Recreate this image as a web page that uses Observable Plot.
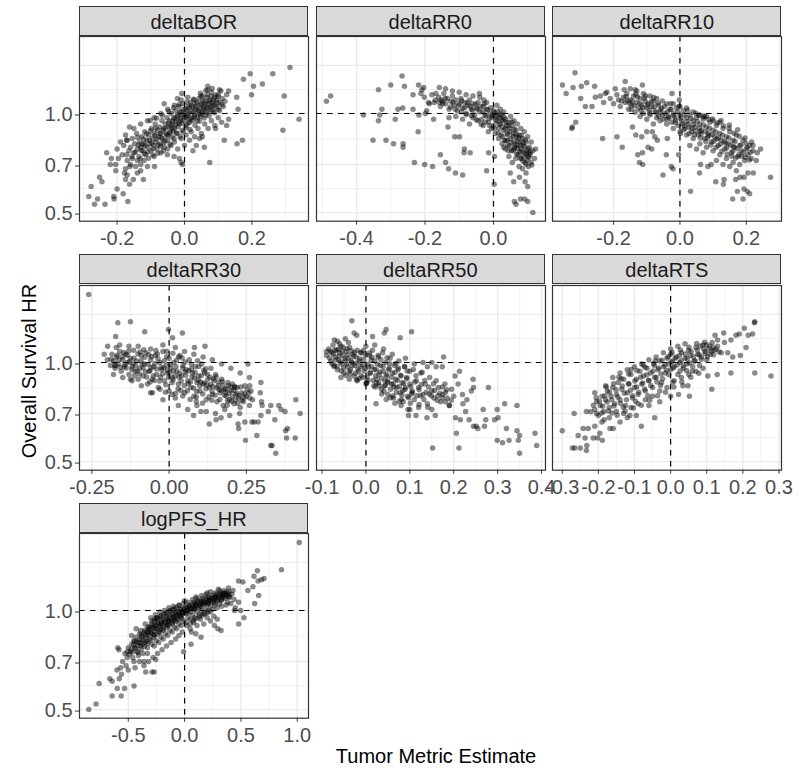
<!DOCTYPE html>
<html><head><meta charset="utf-8">
<script src="https://cdn.jsdelivr.net/npm/d3@7"></script>
<script src="https://cdn.jsdelivr.net/npm/@observablehq/plot@0.6"></script>
<style>
body{margin:0;background:#fff;}
#chart{position:relative;width:807px;height:771px;font-family:"Liberation Sans",Arial,sans-serif;overflow:hidden;}
.strip{position:absolute;box-sizing:border-box;background:#D9D9D9;border:1px solid #333;color:#1A1A1A;font-size:20px;text-align:center;line-height:28.3px;padding-top:1px;}
.title{position:absolute;font-size:20px;color:#000;white-space:nowrap;line-height:1;}
#chart svg{position:absolute;}
</style></head><body><div id="chart"></div><script>
// ---------- DATA: [metric estimate, overall survival HR] ----------
const facetNames = ["deltaBOR","deltaRR0","deltaRR10","deltaRR30","deltaRR50","deltaRTS","logPFS_HR"];

const deltaBOR = [
[0.313,1.38],[0.262,1.32],[0.195,1.32],[0.175,1.27],[0.205,1.21],[0.231,1.23],[0.199,1.14],[0.296,1.13],[0.155,1.12],[0.131,1.17],[0.159,1.03],[0.34,0.96],[0.292,0.89],[0.118,0.83],[0.156,0.81],[0.172,0.83],[0.075,0.71],[0.059,0.79],[0.131,0.96],[0.125,0.92],[0.092,0.9],[0.053,0.85],[0.104,1.18],[0.069,1.18],[0.069,1.21],[0.049,1.13],[-0.008,1.15],[-0.021,1.11],
[-0.284,0.56],[-0.267,0.53],[-0.277,0.6],[-0.258,0.55],[-0.236,0.53],[-0.252,0.64],[-0.245,0.62],[-0.231,0.76],[-0.209,0.55],[-0.21,0.56],[-0.2,0.59],[-0.182,0.57],[-0.168,0.54],[-0.22,0.7],[-0.204,0.7],[-0.196,0.73],[-0.217,0.73],[-0.204,0.67],[-0.175,0.63],[-0.17,0.65],[-0.163,0.61],[-0.178,0.66],[-0.175,0.68],[-0.162,0.69],[-0.172,0.75],[-0.152,0.63],[-0.14,0.66],[-0.122,0.63],[-0.13,0.67],[-0.163,0.91],[-0.172,0.83],[-0.156,0.74],[-0.11,0.69],[-0.089,0.69],[-0.006,0.7],[-0.01,0.71],[-0.031,0.74],[-0.051,0.75],
[-0.16,0.79],[-0.155,0.84],[-0.15,0.76],[-0.148,0.81],[-0.142,0.87],[-0.14,0.78],[-0.135,0.74],[-0.133,0.82],[-0.13,0.79],[-0.127,0.85],[-0.124,0.77],[-0.12,0.81],[-0.118,0.88],[-0.115,0.75],[-0.112,0.83],[-0.11,0.79],[-0.106,0.86],[-0.103,0.81],[-0.1,0.77],[-0.098,0.9],[-0.095,0.84],[-0.092,0.8],[-0.09,0.87],[-0.087,0.93],[-0.085,0.82],[-0.082,0.78],[-0.08,0.89],[-0.077,0.85],[-0.074,0.91],[-0.072,0.81],[-0.07,0.87],[-0.067,0.95],[-0.065,0.84],[-0.062,0.9],[-0.06,0.79],[-0.057,0.93],[-0.055,0.87],[-0.052,0.97],[-0.05,0.83],[-0.047,0.91],[-0.045,0.95],[-0.042,0.88],[-0.04,1.0],[-0.037,0.85],[-0.035,0.93],[-0.032,0.97],[-0.03,0.9],[-0.027,1.02],[-0.025,0.95],[-0.022,0.87],[-0.02,0.99],[-0.017,1.05],[-0.015,0.93],[-0.012,0.97],[-0.01,1.01],[-0.007,0.89],[-0.005,1.07],[-0.002,0.95],[0,0.99],[0.003,1.03],[0.005,0.92],[0.008,0.97],[0.01,1.05],[0.013,1.0],[0.015,0.94],[0.018,1.08],[0.02,1.02],[0.023,0.97],[0.025,1.05],[0.028,1.1],[0.03,0.99],[0.033,1.03],[0.035,1.07],[0.038,0.95],[0.04,1.01],[0.043,1.11],[0.045,1.04],[0.048,0.98],[0.05,1.07],[0.053,1.13],[0.055,1.02],[0.058,1.05],[0.06,1.09],[0.063,0.99],[0.065,1.04],[0.068,1.14],[0.07,1.07],[0.073,1.01],[0.075,1.1],[0.078,1.05],[0.08,1.16],[0.083,1.08],[0.085,1.02],[0.088,1.12],[0.09,1.06],[0.095,1.1],[0.1,1.14],[0.1,1.03],[0.105,1.08],[0.108,1.17],[0.112,1.11],[0.115,1.05],[0.12,1.09],[0.125,1.14],
[-0.09,0.74],[-0.07,0.76],[-0.05,0.78],[-0.04,0.8],[-0.03,0.82],[-0.02,0.78],[-0.01,0.84],[0,0.8],[0.005,0.86],[0.015,0.83],[0.02,0.88],[0.03,0.85],[0.04,0.9],[0.05,0.87],[0.06,0.93],[0.07,0.9],[0.08,0.95],[0.09,0.92],[0.1,0.97],[0.11,0.94],[0.025,0.77],[0.035,0.8],[-0.015,0.73],[0.045,0.84],
[-0.2,0.78],[-0.19,0.82],[-0.185,0.75],[-0.18,0.8],[-0.175,0.86],[-0.17,0.72],[-0.165,0.77],[-0.16,0.7],[-0.155,0.73],[-0.145,0.69],[-0.14,0.72],[-0.13,0.7],[-0.12,0.72],[-0.17,0.83],[-0.15,0.9],[-0.13,0.93],[-0.11,0.95],[-0.09,0.97],[-0.07,1.0],[-0.05,1.03],[-0.03,1.06],[-0.01,1.1],[0.01,1.12],[-0.06,1.07],
[-0.137,0.803],[-0.128,0.772],[-0.121,0.836],[-0.117,0.798],[-0.109,0.764],[-0.104,0.829],[-0.097,0.812],[-0.093,0.781],[-0.088,0.857],[-0.083,0.836],[-0.078,0.803],[-0.073,0.868],[-0.069,0.842],[-0.064,0.889],[-0.061,0.815],[-0.056,0.902],[-0.053,0.861],[-0.048,0.934],[-0.044,0.873],[-0.041,0.918],[-0.036,0.948],[-0.033,0.887],[-0.029,0.965],[-0.026,0.923],[-0.021,0.981],[-0.018,0.942],[-0.014,1.012],[-0.011,0.958],[-0.006,0.994],[-0.003,1.028],[0.002,0.972],[0.006,1.017],[0.009,0.988],[0.014,1.041],[0.017,0.963],[0.021,1.059],[0.026,1.013],[0.029,0.978],[0.034,1.046],[0.037,1.082],[0.041,1.022],[0.046,0.993],[0.049,1.061],[0.054,1.094],[0.057,1.033],[0.062,1.071],[0.066,1.118],[0.071,1.043],[0.074,1.087],[0.079,1.126],[0.084,1.062],[0.087,1.097],[0.092,1.138],[0.097,1.076],[-0.146,0.762],[-0.139,0.846],[-0.131,0.727],[-0.126,0.805],[-0.119,0.754],[-0.113,0.868],[-0.107,0.731],[-0.101,0.886],[-0.094,0.748],[-0.086,0.902],[-0.079,0.757],[-0.071,0.796],[-0.063,0.771],[-0.058,0.825],[-0.049,0.857],[-0.043,0.806],[-0.037,0.902],[-0.031,0.839],[-0.024,0.872],[-0.019,0.912],[-0.013,0.852],[-0.008,0.934],[-0.004,0.878],[0.004,0.905],[0.011,0.936],[0.016,0.894],[0.024,0.952],[0.031,0.921],[0.038,0.975],[0.044,0.948],[0.052,1.004],[0.058,0.969],[0.066,1.011],[0.073,0.982],[0.081,1.028],[0.089,1.006],[0.096,1.047],[0.104,1.021],[0.111,1.066],[-0.102,0.952],[-0.083,0.968],[-0.066,0.988],[-0.047,1.016],[-0.032,1.042],[-0.016,1.066],[0.007,1.083],[0.027,1.104],[0.047,1.152],[0.063,1.172],[0.082,1.192],[0.1,1.124]
];

const deltaRR0 = [
[-0.488,1.09],[-0.476,1.13],[-0.336,1.18],[-0.3,1.22],[-0.267,1.3],[-0.26,1.21],[-0.326,1.03],[-0.332,0.99],[-0.336,0.95],[-0.38,0.99],[-0.352,0.83],[-0.314,0.83],[-0.292,0.81],[-0.264,0.81],[-0.264,0.79],[-0.287,0.96],[-0.279,1.03],[-0.265,1.04],[-0.235,1.03],[-0.235,1.14],[-0.22,0.88],[-0.231,0.71],[-0.201,0.7],[-0.178,0.69],[-0.155,0.75],[-0.14,0.71],[-0.131,0.68],[-0.111,0.66],[-0.09,0.65],[-0.133,0.91],[-0.099,0.85],[-0.113,0.85],[-0.085,0.78],[-0.068,0.76],[-0.086,0.76],[-0.175,0.96],[-0.218,0.99],[-0.199,1.0],[-0.219,1.22],[-0.204,1.2],[-0.202,1.12],[-0.187,1.07],[-0.168,1.15],[-0.158,1.2],[-0.153,1.1],[-0.041,1.15],[-0.028,1.1],[-0.02,0.67],[0.002,0.61],[-0.014,0.76],[0.003,0.74],[0.049,0.66],[0.059,0.62],[0.076,0.64],[0.092,0.62],[0.1,0.6],[0.061,0.54],[0.066,0.53],[0.079,0.55],[0.091,0.55],[0.1,0.54],[0.115,0.5],[0.123,0.78],[0.103,0.76],[-0.195,1.02],[-0.173,1.08],[-0.158,1.08],[-0.212,1.15],[-0.209,1.18],
[-0.16,1.12],[-0.155,1.05],[-0.15,1.09],[-0.145,1.15],[-0.14,1.07],[-0.135,1.11],[-0.13,1.03],[-0.125,1.09],[-0.12,1.13],[-0.115,1.06],[-0.11,1.1],[-0.105,1.02],[-0.1,1.07],[-0.095,1.11],[-0.09,1.04],[-0.085,1.08],[-0.08,1.0],[-0.075,1.06],[-0.07,1.1],[-0.065,1.03],[-0.06,1.07],[-0.055,0.99],[-0.05,1.04],[-0.045,1.08],[-0.04,1.01],[-0.035,0.96],[-0.03,1.05],[-0.025,0.99],[-0.02,1.03],[-0.015,0.94],[-0.01,1.0],[-0.005,0.97],[0,1.02],[0,0.92],[0.005,0.98],[0.01,0.95],[0.012,1.01],[0.015,0.9],[0.018,0.97],[0.02,0.93],[0.022,0.86],[0.025,0.99],[0.028,0.95],[0.03,0.89],[0.032,0.83],[0.035,0.96],[0.038,0.92],[0.04,0.87],[0.042,0.8],[0.045,0.94],[0.047,0.9],[0.05,0.84],[0.052,0.77],[0.055,0.92],[0.057,0.87],[0.06,0.82],[0.062,0.79],[0.065,0.89],[0.067,0.85],[0.07,0.8],[0.072,0.75],[0.075,0.86],[0.077,0.82],[0.08,0.78],[0.082,0.73],[0.085,0.84],[0.087,0.8],[0.09,0.76],[0.092,0.71],[0.095,0.82],[0.097,0.77],[0.1,0.74],[0.102,0.69],[0.105,0.79],[0.107,0.75],[0.11,0.71],[0.115,0.77],[0.12,0.73],[0.045,0.74],[0.055,0.71],[0.065,0.73],[0.075,0.69],[0.085,0.68],[0.095,0.66],[0.035,0.78],[0.025,0.81],[0.015,0.84],[0.005,0.87],[-0.005,0.9],[-0.015,0.88],[-0.03,0.92],[-0.045,0.95],[-0.06,0.97],[-0.07,0.93],[-0.09,0.96],[-0.11,0.98],[-0.13,0.97],[-0.02,1.08],[-0.04,1.12],[-0.06,1.13],[-0.08,1.14],[-0.1,1.16],[-0.12,1.17],[-0.14,1.19],[0.01,1.06],[0.02,1.03],[0.03,1.01],[0.05,0.98],[0.06,0.95],[0.07,0.93],[0.08,0.9],[0.09,0.88],[0.1,0.85],[0.11,0.82],[0.06,0.78],[0.04,0.83],[-0.17,1.1],[-0.18,1.14],[-0.19,1.08],
[-0.118,1.082],[-0.102,1.058],[-0.093,1.093],[-0.084,1.041],[-0.076,1.078],[-0.067,1.052],[-0.061,1.024],[-0.052,1.067],[-0.046,1.031],[-0.038,1.048],[-0.031,1.012],[-0.027,1.071],[-0.022,0.983],[-0.017,1.026],[-0.012,0.968],[-0.008,1.041],[-0.003,0.986],[0.003,1.008],[0.007,0.951],[0.011,0.982],[0.016,0.926],[0.019,0.995],[0.023,0.958],[0.027,0.911],[0.031,0.974],[0.034,0.897],[0.037,0.942],[0.041,0.862],[0.044,0.918],[0.048,0.882],[0.051,0.816],[0.054,0.943],[0.057,0.851],[0.061,0.898],[0.063,0.804],[0.066,0.867],[0.069,0.826],[0.071,0.783],[0.074,0.842],[0.076,0.762],[0.079,0.803],[0.081,0.857],[0.083,0.768],[0.086,0.815],[0.088,0.742],[0.091,0.792],[0.093,0.831],[0.096,0.752],[0.098,0.721],[0.101,0.781],[0.104,0.735],[0.108,0.764],[0.112,0.697],[0.068,0.752],[0.058,0.771],[0.047,0.798],[0.036,0.826],[0.026,0.852],[0.014,0.872],[0.002,0.902],[-0.011,0.918],[-0.024,0.943],[-0.036,0.928],[-0.05,0.958],[-0.064,0.985],[-0.079,0.993],[-0.094,1.012],[-0.112,1.031],[-0.126,1.046],[-0.141,1.111],[-0.148,1.072],[0.086,0.717],[0.078,0.731],[0.095,0.701],[0.044,0.77],[0.03,0.79]
];

const deltaRR10 = [
[-0.316,1.33],[-0.354,1.22],[-0.343,1.15],[-0.322,1.2],[-0.297,1.21],[-0.281,1.24],[-0.299,1.11],[-0.285,1.05],[-0.265,1.05],[-0.257,1.21],[-0.255,1.12],[-0.324,0.91],[-0.326,0.9],[-0.314,0.94],[-0.233,0.84],[-0.19,0.85],[-0.174,0.79],[-0.165,1.25],[-0.168,1.18],[-0.195,1.19],[-0.225,1.15],[-0.113,1.22],[-0.135,1.18],[-0.143,0.91],[-0.133,0.86],[-0.115,0.85],[-0.127,0.75],[-0.113,0.76],[-0.122,0.71],[-0.112,0.7],[-0.096,0.79],[-0.085,0.78],[-0.1,0.88],[-0.083,0.88],[-0.076,0.85],[-0.068,0.83],[-0.051,0.65],[-0.024,1.15],[-0.002,1.1],[-0.038,0.84],[-0.041,0.75],[-0.026,0.69],[-0.021,0.68],[-0.004,0.75],[0.002,0.87],[0.032,0.58],[0.059,0.66],[0.062,0.7],[0.084,0.69],[0.094,0.7],[0.108,0.62],[0.131,0.61],[0.133,0.63],[0.159,0.55],[0.173,0.58],[0.19,0.55],[0.193,0.59],[0.203,0.58],[0.21,0.57],[0.181,0.64],[0.193,0.64],[0.205,0.66],[0.221,0.66],[0.273,0.64],[0.23,0.72],[0.243,0.78],[0.233,0.76],[0.216,0.82],[0.22,0.8],[0.168,0.63],
[-0.24,1.13],[-0.23,1.08],[-0.22,1.16],[-0.21,1.11],[-0.2,1.07],[-0.19,1.14],[-0.185,1.1],[-0.18,1.05],[-0.17,1.12],[-0.165,1.08],[-0.16,1.15],[-0.155,1.03],[-0.15,1.1],[-0.145,1.06],[-0.14,1.13],[-0.135,1.01],[-0.13,1.08],[-0.125,1.04],[-0.12,1.11],[-0.115,1.06],[-0.11,1.0],[-0.105,1.09],[-0.1,1.04],[-0.095,1.07],[-0.09,0.99],[-0.085,1.05],[-0.08,1.09],[-0.075,1.02],[-0.07,0.97],[-0.065,1.06],[-0.06,1.01],[-0.055,1.04],[-0.05,0.96],[-0.045,1.0],[-0.04,1.07],[-0.035,0.98],[-0.03,1.03],[-0.025,0.94],[-0.02,1.0],[-0.015,0.97],[-0.01,1.04],[-0.005,0.92],[0,0.99],[0.005,0.95],[0.01,1.02],[0.015,0.9],[0.02,0.97],[0.025,0.93],[0.03,0.99],[0.035,0.88],[0.04,0.95],[0.045,0.91],[0.05,0.97],[0.055,0.86],[0.06,0.93],[0.065,0.89],[0.07,0.96],[0.075,0.84],[0.08,0.91],[0.085,0.87],[0.09,0.94],[0.095,0.82],[0.1,0.89],[0.105,0.85],[0.11,0.92],[0.115,0.8],[0.12,0.87],[0.125,0.83],[0.13,0.9],[0.135,0.78],[0.14,0.85],[0.145,0.81],[0.15,0.88],[0.155,0.76],[0.16,0.83],[0.165,0.79],[0.17,0.86],[0.175,0.74],[0.18,0.8],[0.185,0.77],[0.19,0.83],[0.195,0.72],[0.2,0.78],[0.205,0.75],[0.21,0.8],[0.215,0.73],[0.22,0.77],[0.06,0.81],[0.08,0.79],[0.1,0.77],[0.12,0.75],[0.14,0.73],[0.16,0.71],[0.18,0.7],[0.04,0.84],[0.02,0.86],[0.0,0.88],[0.03,0.8],[0.05,0.78],[0.07,0.76],[0.11,0.72],[0.13,0.7],[0.15,0.69],[0.17,0.67],[-0.02,0.9],[-0.04,0.93],[-0.06,0.95],[-0.08,0.93],[-0.1,0.96],[-0.12,0.98],[-0.02,1.07],[0.0,1.05],[0.02,1.04],[0.04,1.01],[0.06,0.99],[0.08,0.98],[0.1,0.95],[0.12,0.94],[-0.07,1.11],[-0.09,1.13],[-0.11,1.15],[-0.13,1.17],[-0.15,1.19],
[-0.143,1.092],[-0.137,1.056],[-0.128,1.124],[-0.121,1.073],[-0.112,1.042],[-0.107,1.112],[-0.098,1.061],[-0.092,1.023],[-0.086,1.087],[-0.078,1.048],[-0.072,1.006],[-0.066,1.074],[-0.058,1.027],[-0.052,0.988],[-0.046,1.052],[-0.038,1.012],[-0.033,0.971],[-0.027,1.031],[-0.019,0.986],[-0.013,0.952],[-0.007,1.012],[0.002,0.968],[0.008,0.931],[0.013,0.989],[0.021,0.945],[0.027,0.908],[0.033,0.966],[0.041,0.926],[0.047,0.885],[0.052,0.944],[0.058,0.903],[0.064,0.868],[0.071,0.922],[0.077,0.881],[0.083,0.846],[0.089,0.902],[0.096,0.862],[0.102,0.824],[0.108,0.879],[0.116,0.842],[0.122,0.806],[0.128,0.861],[0.134,0.822],[0.141,0.786],[0.147,0.842],[0.153,0.803],[0.159,0.768],[0.166,0.822],[0.172,0.782],[0.178,0.751],[0.184,0.802],[0.191,0.763],[0.197,0.736],[0.203,0.788],[0.209,0.722],[-0.176,1.092],[-0.162,1.124],[-0.151,1.071],[0.086,0.961],[0.072,0.976],[0.057,0.987],[0.112,0.936],[0.131,0.918],[0.148,0.902],[0.163,0.871],[0.179,0.853],[0.196,0.842],[0.168,0.733],[0.156,0.741],[0.142,0.752],[0.126,0.768],[0.109,0.789],[0.093,0.803],[0.078,0.822],[0.062,0.842],[0.044,0.862],[0.028,0.869],[0.011,0.892],
[-0.158,1.092],[-0.147,1.028],[-0.133,1.144],[-0.118,1.022],[-0.104,1.132],[-0.091,1.002],[-0.079,1.118],[-0.064,0.982],[-0.053,1.092],[-0.039,0.962],[-0.028,1.072],[-0.014,0.938],[-0.003,1.052],[0.012,0.918],[0.023,1.024],[0.036,0.902],[0.048,1.002],[0.061,0.882],[0.073,0.982],[0.087,0.858],[0.098,0.962],[0.111,0.836],[0.124,0.952],[0.137,0.812],[0.149,0.922],[0.161,0.792],[0.174,0.892],[0.186,0.742],[0.199,0.812],[0.212,0.762]
];

const deltaRR30 = [
[-0.26,1.61],[-0.166,1.32],[-0.125,1.33],[-0.173,1.2],[-0.079,1.24],[-0.002,1.26],[0.011,1.19],[0.043,1.23],[-0.199,1.12],[-0.21,1.06],[-0.171,1.11],[-0.174,0.98],[-0.125,0.89],[-0.054,0.81],[-0.02,0.77],[0.082,1.11],[0.116,1.12],[0.103,0.71],[0.079,0.69],[0.13,0.65],[0.152,0.67],[0.168,0.68],[0.196,0.69],[0.223,0.65],[0.225,0.63],[0.228,0.7],[0.245,0.66],[0.247,0.58],[0.284,0.6],[0.268,0.66],[0.275,0.66],[0.288,0.66],[0.297,0.69],[0.299,0.76],[0.295,0.81],[0.297,0.87],[0.255,0.99],[0.301,0.74],[0.321,0.71],[0.329,0.74],[0.342,0.67],[0.329,0.56],[0.333,0.56],[0.345,0.53],[0.355,0.74],[0.362,0.72],[0.375,0.71],[0.377,0.62],[0.383,0.63],[0.38,0.59],[0.408,0.59],[0.41,0.77],[0.424,0.7],[0.258,0.81],[0.261,0.78],[0.212,0.84],[0.261,0.85],
[-0.2,1.02],[-0.19,0.98],[-0.185,1.06],[-0.18,1.01],[-0.175,0.96],[-0.17,1.04],[-0.165,0.99],[-0.16,1.08],[-0.155,0.94],[-0.15,1.02],[-0.145,0.97],[-0.14,1.06],[-0.135,1.0],[-0.13,0.92],[-0.125,1.03],[-0.12,0.97],[-0.115,1.09],[-0.11,0.94],[-0.105,1.01],[-0.1,0.89],[-0.095,0.96],[-0.09,1.05],[-0.085,0.91],[-0.08,0.99],[-0.075,1.07],[-0.07,0.86],[-0.065,0.94],[-0.06,1.02],[-0.055,0.89],[-0.05,0.97],[-0.045,1.05],[-0.04,0.92],[-0.035,0.84],[-0.03,1.0],[-0.025,0.95],[-0.02,1.08],[-0.015,0.88],[-0.01,0.98],[-0.005,0.93],[0,1.03],[0,0.82],[0.005,0.96],[0.01,0.9],[0.015,1.0],[0.02,0.78],[0.025,0.94],[0.03,0.86],[0.035,1.05],[0.04,0.91],[0.045,0.98],[0.05,0.81],[0.055,0.95],[0.06,0.88],[0.065,1.02],[0.07,0.84],[0.075,0.93],[0.08,0.79],[0.085,0.97],[0.09,0.87],[0.095,0.91],[0.1,0.82],[0.105,0.99],[0.11,0.86],[0.115,0.93],[0.12,0.77],[0.125,0.89],[0.13,0.84],[0.135,0.96],[0.14,0.8],[0.145,0.88],[0.15,0.92],[0.155,0.76],[0.16,0.85],[0.165,0.81],[0.17,0.89],[0.175,0.74],[0.18,0.83],[0.185,0.79],[0.19,0.87],[0.195,0.77],[0.2,0.82],[0.205,0.86],[0.21,0.75],[0.215,0.8],[0.22,0.84],[0.225,0.78],[0.23,0.73],[0.235,0.81],[0.24,0.76],[0.245,0.85],[0.25,0.79],[0.26,0.74],[0.265,0.82],[0.27,0.77],[-0.1,1.12],[-0.06,1.1],[-0.02,1.13],[0.02,1.11],[0.05,1.08],[0.08,1.06],[0.11,1.04],[0.14,1.02],[0.17,0.99],[0.2,0.96],[0.23,0.93],[0.26,0.9],[-0.13,1.12],[-0.16,1.13],[0.03,0.74],[0.06,0.72],[0.09,0.74],[0.12,0.71],[0.15,0.7],[0.18,0.72],[0.01,0.8],[-0.03,0.83],[-0.06,0.81],[-0.09,0.85],[-0.12,0.88],[-0.15,0.9],[-0.18,0.92],
[-0.152,1.041],[-0.143,0.986],[-0.136,1.052],[-0.128,1.008],[-0.121,0.952],[-0.114,1.031],[-0.108,0.978],[-0.101,1.062],[-0.096,0.923],[-0.091,1.012],[-0.084,0.962],[-0.079,1.038],[-0.073,0.904],[-0.068,0.987],[-0.062,0.944],[-0.057,1.041],[-0.051,0.912],[-0.046,0.993],[-0.041,0.956],[-0.036,1.027],[-0.031,0.878],[-0.026,0.967],[-0.021,0.923],[-0.016,1.012],[-0.011,0.856],[-0.006,0.947],[-0.002,0.902],[0.004,0.986],[0.009,0.868],[0.014,0.944],[0.019,0.912],[0.024,1.018],[0.029,0.833],[0.034,0.927],[0.039,0.879],[0.044,0.962],[0.049,0.852],[0.054,0.914],[0.059,0.821],[0.064,0.946],[0.069,0.873],[0.074,0.904],[0.079,0.837],[0.084,0.932],[0.089,0.816],[0.094,0.882],[0.099,0.849],[0.104,0.911],[0.109,0.802],[0.114,0.866],[0.119,0.832],[0.124,0.921],[0.129,0.786],[0.134,0.857],[0.139,0.818],[0.144,0.893],[0.149,0.796],[0.154,0.838],[0.159,0.872],[0.164,0.772],[0.169,0.823],[0.174,0.853],[0.179,0.796],[0.184,0.832],[0.189,0.764],[0.194,0.808],[0.199,0.843],[0.204,0.787],[0.209,0.823],[0.214,0.771],[0.219,0.806],[0.227,0.792],[0.236,0.768],[0.244,0.802],[-0.187,1.023],[-0.176,0.978],[-0.163,1.017],[0.118,0.958],[0.096,0.972],[0.072,0.988],[0.052,1.003],[0.031,1.041],[0.012,1.067],[-0.008,1.082],[-0.043,1.088],[-0.082,1.094],[0.068,0.772],[0.088,0.761],[0.108,0.752],[0.044,0.791],[0.021,0.806],
[-0.147,1.072],[-0.139,0.962],[-0.131,1.083],[-0.117,0.992],[-0.103,0.942],[-0.094,1.076],[-0.087,0.987],[-0.077,0.936],[-0.066,1.058],[-0.058,0.966],[-0.048,0.882],[-0.038,1.062],[-0.028,0.902],[-0.018,0.962],[-0.008,1.042],[0.002,0.932],[0.013,0.886],[0.022,0.972],[0.032,0.902],[0.042,1.032],[0.052,0.938],[0.062,0.862],[0.072,0.956],[0.082,0.898],[0.092,1.012],[0.102,0.872],[0.112,0.946],[0.122,0.856],[0.132,0.902],[0.142,0.846],[0.152,0.906],[0.162,0.826],[0.172,0.876],[0.182,0.812],[0.192,0.852],[0.202,0.762],[0.212,0.846],[0.222,0.752],[0.232,0.842],[0.242,0.782],[0.252,0.826],[-0.168,1.052],[-0.158,0.968],[-0.112,0.912],[-0.062,0.872],[-0.012,0.812],[0.038,0.822],[0.088,0.786],[0.138,0.768],[0.188,0.742]
];

const deltaRR50 = [
[-0.032,1.34],[0.046,1.26],[0.042,1.23],[0.104,1.24],[0.078,1.19],[0.015,1.2],[-0.027,1.23],[-0.021,1.21],[-0.09,1.08],[-0.072,1.17],[-0.065,1.16],[-0.047,1.18],[-0.057,0.9],[-0.038,0.89],[0.023,0.75],[0.152,0.55],[0.212,0.55],[0.206,0.61],[0.177,1.04],[0.174,0.97],[0.213,0.94],[0.203,0.91],[0.244,0.89],[0.279,0.84],[0.245,0.84],[0.24,0.82],[0.267,0.72],[0.273,0.67],[0.27,0.64],[0.251,0.64],[0.255,0.63],[0.245,0.64],[0.299,0.72],[0.293,0.67],[0.301,0.68],[0.316,0.75],[0.32,0.63],[0.344,0.74],[0.299,0.58],[0.311,0.57],[0.326,0.58],[0.344,0.62],[0.35,0.6],[0.347,0.58],[0.35,0.53],[0.385,0.61],[0.389,0.56],[0.221,0.75],[0.227,0.71],[0.235,0.67],[0.215,0.67],[0.204,0.68],[0.158,0.69],[0.139,0.68],[0.114,0.69],[0.097,0.69],[0.096,0.72],[0.181,0.76],[0.19,0.74],
[-0.09,1.05],[-0.085,1.1],[-0.08,1.01],[-0.078,1.07],[-0.075,1.13],[-0.072,0.98],[-0.07,1.04],[-0.067,1.09],[-0.065,0.95],[-0.062,1.02],[-0.06,1.07],[-0.057,1.12],[-0.055,0.99],[-0.052,1.05],[-0.05,0.93],[-0.047,1.01],[-0.045,1.08],[-0.042,0.97],[-0.04,1.03],[-0.037,1.11],[-0.035,0.95],[-0.032,1.0],[-0.03,1.06],[-0.027,0.91],[-0.025,0.98],[-0.022,1.04],[-0.02,1.09],[-0.017,0.94],[-0.015,1.01],[-0.012,0.97],[-0.01,1.07],[-0.007,0.9],[-0.005,1.02],[-0.002,0.96],[0,1.12],[0.002,0.87],[0.005,0.99],[0.008,1.05],[0.01,0.93],[0.013,0.97],[0.015,1.09],[0.018,0.85],[0.02,1.01],[0.023,0.95],[0.025,0.89],[0.028,1.04],[0.03,0.92],[0.033,0.98],[0.035,0.83],[0.038,1.07],[0.04,0.94],[0.043,0.88],[0.045,1.0],[0.048,0.91],[0.05,0.8],[0.053,0.96],[0.055,1.03],[0.058,0.86],[0.06,0.93],[0.063,0.78],[0.065,0.98],[0.068,0.89],[0.07,0.84],[0.073,0.95],[0.075,1.01],[0.078,0.81],[0.08,0.91],[0.083,0.87],[0.085,0.76],[0.088,0.97],[0.09,0.84],[0.093,0.9],[0.095,0.79],[0.1,0.94],[0.1,0.86],[0.105,0.82],[0.11,0.99],[0.11,0.77],[0.115,0.88],[0.12,0.84],[0.125,0.93],[0.13,0.8],[0.135,0.86],[0.14,0.75],[0.145,0.9],[0.15,0.82],[0.155,0.78],[0.16,0.88],[0.165,0.84],[0.17,0.76],[0.175,0.8],[0.18,0.86],[0.185,0.78],[0.19,0.74],[0.195,0.83],[0.2,0.79],[0.21,0.86],[0.22,0.8],[0.23,0.77],[0.13,1.0],[0.14,0.97],[0.15,1.0],[0.16,0.97],[0.12,0.73],[0.1,0.72],[0.08,0.74],[0.15,0.72],[0.05,0.87],[0.03,0.85],[0.0,0.86],[-0.02,0.88],[0.04,1.1],[0.02,1.13],[0.06,1.06],[0.09,1.03],[-0.06,1.14],[-0.04,1.15],
[-0.083,1.032],[-0.078,0.992],[-0.074,1.061],[-0.069,1.018],[-0.066,0.972],[-0.061,1.046],[-0.058,1.003],[-0.054,1.082],[-0.051,0.962],[-0.048,1.028],[-0.044,0.988],[-0.041,1.056],[-0.038,0.941],[-0.034,1.012],[-0.031,0.978],[-0.028,1.043],[-0.024,0.927],[-0.021,0.996],[-0.018,0.956],[-0.014,1.026],[-0.011,0.912],[-0.008,0.982],[-0.004,0.943],[-0.001,1.052],[0.003,0.903],[0.006,0.968],[0.009,0.929],[0.012,1.018],[0.016,0.884],[0.019,0.952],[0.022,0.912],[0.026,0.988],[0.029,0.866],[0.032,0.936],[0.036,0.896],[0.039,0.972],[0.042,0.848],[0.046,0.918],[0.049,0.879],[0.052,0.951],[0.056,0.829],[0.059,0.902],[0.062,0.862],[0.066,0.932],[0.069,0.811],[0.072,0.882],[0.076,0.846],[0.079,0.914],[0.082,0.797],[0.086,0.864],[0.089,0.828],[0.093,0.893],[0.097,0.781],[0.102,0.846],[0.106,0.812],[0.111,0.872],[0.116,0.792],[0.121,0.826],[0.126,0.857],[0.132,0.772],[0.137,0.812],[0.143,0.843],[0.149,0.792],[0.156,0.822],[0.162,0.768],[0.168,0.806],[0.174,0.782],[0.181,0.812],[-0.071,1.092],[-0.052,1.112],[-0.033,1.086],[-0.012,1.072],[0.008,1.068],[0.028,1.052],[0.048,1.034],[0.068,0.994],[0.088,0.973],[0.108,0.952],[0.128,0.934],[-0.046,0.913],[-0.021,0.887],[0.001,0.866],[0.021,0.842],[0.041,0.818],[0.061,0.791],[0.081,0.772],[0.101,0.752],[0.121,0.746],[0.141,0.731],
[-0.081,1.082],[-0.073,0.972],[-0.063,1.098],[-0.056,0.942],[-0.043,1.102],[-0.036,0.921],[-0.026,1.072],[-0.016,0.892],[-0.006,1.088],[0.004,0.882],[0.014,1.038],[0.024,0.868],[0.034,1.021],[0.044,0.852],[0.054,0.992],[0.064,0.842],[0.074,0.962],[0.084,0.822],[0.094,0.942],[0.104,0.802],[0.114,0.912],[0.124,0.792],[0.134,0.882],[0.144,0.802],[0.154,0.862],[0.164,0.792],[0.174,0.842],[0.184,0.826],[0.194,0.768],[0.036,0.802],[0.056,0.782],[0.076,0.762],[0.046,0.772],[0.066,0.752]
];

const deltaRTS = [
[0.233,1.33],[0.232,1.32],[0.204,1.27],[0.227,1.22],[0.215,1.21],[0.19,1.22],[0.181,1.21],[0.167,1.17],[0.209,1.11],[0.193,1.05],[0.158,1.07],[0.172,1.04],[0.167,0.93],[0.233,0.93],[0.278,0.91],[0.129,0.92],[0.103,0.91],[0.114,0.83],[0.052,0.79],[0.034,0.85],[0.022,0.8],[0.048,0.85],[0.147,1.23],[0.149,1.15],[0.13,1.17],[0.123,1.21],[-0.21,0.81],[-0.267,0.7],[-0.3,0.62],[-0.272,0.55],[-0.265,0.55],[-0.25,0.55],[-0.233,0.54],[-0.232,0.56],[-0.256,0.6],[-0.237,0.59],[-0.242,0.63],[-0.228,0.63],[-0.233,0.71],[-0.214,0.59],[-0.202,0.59],[-0.189,0.58],[-0.196,0.61],[-0.21,0.64],[-0.205,0.7],[-0.184,0.67],[-0.168,0.63],[-0.159,0.63],[-0.081,0.64],[-0.044,0.68],[-0.095,0.69],[-0.113,0.69],
[-0.21,0.72],[-0.205,0.76],[-0.2,0.69],[-0.195,0.74],[-0.19,0.79],[-0.185,0.71],[-0.18,0.77],[-0.175,0.82],[-0.17,0.73],[-0.165,0.79],[-0.16,0.84],[-0.155,0.75],[-0.15,0.8],[-0.145,0.87],[-0.14,0.77],[-0.135,0.83],[-0.13,0.89],[-0.125,0.74],[-0.12,0.81],[-0.115,0.86],[-0.11,0.92],[-0.105,0.78],[-0.1,0.84],[-0.095,0.89],[-0.09,0.8],[-0.085,0.94],[-0.08,0.86],[-0.075,0.91],[-0.07,0.82],[-0.065,0.96],[-0.06,0.88],[-0.055,0.93],[-0.05,0.84],[-0.045,0.98],[-0.04,0.9],[-0.035,0.95],[-0.03,1.01],[-0.025,0.87],[-0.02,0.97],[-0.015,0.93],[-0.01,1.03],[-0.005,0.99],[0,0.95],[0,1.06],[0.005,1.01],[0.01,0.97],[0.015,1.04],[0.02,0.92],[0.025,1.0],[0.03,1.07],[0.035,0.96],[0.04,1.03],[0.045,0.99],[0.05,1.09],[0.055,1.05],[0.06,0.94],[0.065,1.01],[0.07,1.11],[0.075,1.06],[0.08,0.98],[0.085,1.04],[0.09,1.13],[0.095,1.08],[0.1,1.02],[0.105,1.1],[0.11,1.06],[0.115,1.15],[0.12,1.09],[0.13,1.12],[0.14,1.07],[-0.15,0.71],[-0.13,0.7],[-0.11,0.73],[-0.09,0.75],[-0.07,0.77],[-0.05,0.79],[-0.03,0.82],[-0.01,0.84],[0.01,0.88],[0.03,0.9],[0.05,0.92],[0.07,0.94],[0.09,0.96],[-0.18,0.85],[-0.16,0.9],[-0.14,0.93],[-0.12,0.95],[-0.1,0.97],[-0.08,0.99],[-0.06,1.02],[-0.04,1.04],[-0.02,1.07],[0.0,1.1],[0.02,1.12],[0.04,1.14],[-0.19,0.66],[-0.17,0.68],[-0.14,0.66],[-0.12,0.68],[-0.06,0.74],[-0.03,0.76],[0.0,0.79],
[-0.197,0.763],[-0.188,0.736],[-0.182,0.792],[-0.176,0.758],[-0.169,0.812],[-0.163,0.771],[-0.157,0.738],[-0.151,0.826],[-0.146,0.786],[-0.139,0.752],[-0.134,0.848],[-0.128,0.806],[-0.122,0.771],[-0.117,0.862],[-0.111,0.823],[-0.106,0.792],[-0.099,0.878],[-0.094,0.842],[-0.088,0.812],[-0.083,0.902],[-0.077,0.866],[-0.072,0.831],[-0.066,0.918],[-0.061,0.883],[-0.055,0.852],[-0.049,0.942],[-0.044,0.902],[-0.038,0.872],[-0.033,0.962],[-0.027,0.923],[-0.022,0.892],[-0.016,0.983],[-0.011,0.948],[-0.005,0.918],[0.002,1.002],[0.007,0.962],[0.013,1.031],[0.018,0.982],[0.024,1.048],[0.029,1.012],[0.035,0.978],[0.041,1.062],[0.046,1.026],[0.052,0.996],[0.057,1.078],[0.063,1.042],[0.068,1.012],[0.074,1.092],[0.079,1.056],[0.085,1.024],[0.091,1.102],[0.096,1.066],[0.102,1.042],[0.108,1.122],[0.113,1.082],[0.119,1.056],[0.126,1.098],[0.134,1.078],[-0.206,0.782],[-0.214,0.742],[-0.221,0.708],[-0.191,0.702],[-0.172,0.712],[-0.148,0.692],[-0.126,0.712],[-0.103,0.728],[-0.081,0.742],[-0.058,0.768],[-0.036,0.792],[-0.014,0.812],[0.009,0.842],[0.031,0.872],[0.056,0.902],[0.078,0.928],[-0.158,0.862],[-0.137,0.892],[-0.116,0.923],[-0.093,0.946],[-0.071,0.968],[-0.047,0.992],[-0.024,1.016],[0.004,1.072],[0.027,1.092],[0.051,1.112],[0.072,1.142],[0.094,1.152],
[-0.178,0.842],[-0.162,0.702],[-0.143,0.902],[-0.131,0.731],[-0.109,0.952],[-0.097,0.762],[-0.076,0.982],[-0.063,0.792],[-0.042,1.012],[-0.028,0.852],[-0.007,1.042],[0.006,0.872],[0.026,0.942],[0.044,0.946],[0.061,0.972],[0.082,1.122],[0.099,1.132],[0.117,1.112]
];

const logPFS_HR = [
[1.018,1.61],[0.86,1.33],[0.646,1.32],[0.616,1.27],[0.705,1.25],[0.682,1.24],[0.652,1.23],[0.479,1.23],[0.518,1.22],[0.607,1.18],[0.562,1.15],[0.658,1.11],[0.622,1.05],[0.497,1.0],[0.527,0.95],[0.479,0.91],[0.443,1.0],[0.324,0.87],[0.295,0.88],[0.265,0.9],[0.146,0.83],[0.057,0.79],[-0.009,0.75],[-0.851,0.5],[-0.786,0.52],[-0.759,0.6],[-0.643,0.55],[-0.664,0.62],[-0.643,0.61],[-0.598,0.58],[-0.563,0.55],[-0.533,0.58],[-0.449,0.59],[-0.592,0.77],[-0.583,0.76],[-0.568,0.67],[-0.509,0.75],[-0.36,0.7],[-0.345,0.65],[-0.289,0.65],[-0.27,0.65],[-0.256,0.71],[-0.241,0.95],[-0.265,0.94],
[-0.55,0.7],[-0.53,0.74],[-0.51,0.72],[-0.5,0.77],[-0.48,0.75],[-0.47,0.79],[-0.46,0.72],[-0.45,0.81],[-0.44,0.77],[-0.43,0.83],[-0.42,0.75],[-0.41,0.8],[-0.4,0.85],[-0.39,0.78],[-0.38,0.82],[-0.37,0.74],[-0.36,0.86],[-0.35,0.8],[-0.34,0.84],[-0.33,0.77],[-0.32,0.88],[-0.31,0.82],[-0.3,0.86],[-0.29,0.79],[-0.28,0.9],[-0.27,0.84],[-0.26,0.88],[-0.25,0.81],[-0.24,0.92],[-0.23,0.86],[-0.22,0.9],[-0.21,0.83],[-0.2,0.94],[-0.19,0.88],[-0.18,0.92],[-0.17,0.85],[-0.16,0.96],[-0.15,0.9],[-0.14,0.93],[-0.13,0.87],[-0.12,0.97],[-0.11,0.92],[-0.1,0.95],[-0.09,0.89],[-0.08,0.99],[-0.07,0.94],[-0.06,0.97],[-0.05,0.91],[-0.04,1.01],[-0.03,0.96],[-0.02,0.99],[-0.01,0.93],[0,1.02],[0.01,0.98],[0.02,1.0],[0.03,0.95],[0.04,1.04],[0.05,0.99],[0.06,1.02],[0.07,0.97],[0.08,1.06],[0.09,1.01],[0.1,1.04],[0.11,0.99],[0.12,1.07],[0.13,1.02],[0.14,1.05],[0.15,1.0],[0.16,1.09],[0.17,1.04],[0.18,1.06],[0.19,1.01],[0.2,1.1],[0.21,1.05],[0.22,1.08],[0.23,1.03],[0.24,1.11],[0.25,1.06],[0.26,1.09],[0.27,1.04],[0.28,1.12],[0.29,1.07],[0.3,1.1],[0.31,1.05],[0.32,1.13],[0.33,1.08],[0.34,1.11],[0.35,1.15],[0.36,1.09],[0.37,1.12],[0.38,1.06],[0.39,1.14],[0.4,1.1],[0.42,1.12],[0.44,1.08],[0.02,0.9],[0.05,0.88],[0.08,0.92],[0.11,0.9],[0.14,0.94],[0.17,0.91],[0.2,0.95],[0.23,0.93],[0.26,0.96],[0.29,0.94],[0.06,0.86],[0.1,0.85],[-0.02,0.86],[-0.05,0.84],[-0.08,0.82],[-0.12,0.8],[-0.16,0.78],[-0.2,0.76],[-0.24,0.74],[-0.28,0.72],[-0.32,0.7],[-0.36,0.68],[-0.4,0.7],[-0.44,0.67],[-0.5,0.66],[-0.52,0.68],[-0.56,0.64],[-0.58,0.62],[-0.6,0.66],[-0.3,0.95],[-0.26,0.97],[-0.22,0.99],[-0.18,1.0],[-0.14,1.02],[-0.1,1.03],[0,1.07],[0.1,1.1],[0.2,1.13],[0.3,1.16],[0.45,1.02],[0.48,1.06],
[-0.492,0.736],[-0.474,0.762],[-0.462,0.748],[-0.451,0.786],[-0.438,0.768],[-0.426,0.802],[-0.414,0.782],[-0.403,0.816],[-0.391,0.796],[-0.379,0.836],[-0.366,0.812],[-0.354,0.848],[-0.343,0.826],[-0.331,0.862],[-0.318,0.842],[-0.306,0.876],[-0.294,0.852],[-0.281,0.888],[-0.269,0.866],[-0.257,0.902],[-0.244,0.879],[-0.232,0.912],[-0.219,0.892],[-0.207,0.926],[-0.194,0.903],[-0.182,0.938],[-0.169,0.916],[-0.157,0.948],[-0.144,0.928],[-0.132,0.958],[-0.119,0.938],[-0.107,0.972],[-0.094,0.951],[-0.082,0.982],[-0.069,0.963],[-0.057,0.992],[-0.044,0.974],[-0.032,1.006],[-0.019,0.984],[-0.007,1.012],[0.006,0.993],[0.018,1.023],[0.031,1.004],[0.043,1.032],[0.056,1.012],[0.068,1.042],[0.081,1.022],[0.093,1.052],[0.106,1.031],[0.118,1.062],[0.131,1.038],[0.143,1.068],[0.156,1.046],[0.168,1.077],[0.181,1.053],[0.193,1.082],[0.206,1.062],[0.218,1.092],[0.231,1.068],[0.243,1.096],[0.256,1.074],[0.268,1.102],[0.281,1.082],[0.293,1.112],[0.306,1.088],[0.318,1.118],[0.331,1.094],[0.343,1.126],[0.356,1.102],[0.368,1.132],[0.381,1.108],[0.393,1.122],[-0.413,0.746],[-0.386,0.762],[-0.358,0.778],[-0.329,0.796],[-0.302,0.812],[-0.274,0.828],[-0.246,0.846],[-0.218,0.858],[-0.191,0.872],[-0.163,0.886],[-0.136,0.902],[-0.108,0.912],[-0.081,0.926],[-0.053,0.938],[-0.026,0.948],[-0.352,0.872],[-0.324,0.892],[-0.297,0.912],[-0.268,0.928],[-0.241,0.943],[-0.213,0.962],[-0.186,0.972],[-0.158,0.986],[-0.131,0.996],[-0.103,1.008],[-0.076,1.022],[-0.048,1.036],[0.052,0.912],[0.078,0.932],[0.103,0.946],[0.131,0.958],[0.156,0.968],[0.181,0.976],[0.206,0.986],[0.231,0.992],
[-0.47,0.84],[-0.45,0.7],[-0.43,0.88],[-0.41,0.73],[-0.39,0.87],[-0.37,0.79],[-0.35,0.91],[-0.33,0.74],[-0.31,0.89],[-0.29,0.93],[-0.27,0.78],[-0.25,0.95],[-0.23,0.8],[-0.21,0.96],[-0.19,0.82],[-0.17,0.98],[-0.15,0.84],[-0.13,1.0],[-0.11,0.86],[-0.09,1.01],[-0.07,0.88],[-0.05,1.04],[-0.03,0.9],[-0.01,1.05],[0.01,0.92],[0.03,1.06],[0.05,0.94],[0.07,1.08],[0.09,0.95],[0.11,1.09],[0.13,0.97],[0.15,1.11],[0.17,0.98],[0.19,1.12],[0.21,1.0],[0.23,1.14],[0.25,1.01],[0.27,1.13],[0.29,1.02],[0.31,1.15],[0.33,1.03],[0.35,1.13],[0.37,1.04],[0.39,1.17],[0.41,1.05],[0.43,1.15],[-0.445,0.805],[-0.385,0.842],[-0.325,0.858],[-0.265,0.896],[-0.205,0.912],[-0.145,0.936],[-0.085,0.958],[-0.025,0.978],[0.035,1.017],[0.095,1.041],[0.155,1.059],[0.215,1.072],[0.275,1.091],[0.335,1.112],[0.395,1.098],[-0.335,0.806],[-0.275,0.846],[-0.215,0.874],[-0.155,0.902],[-0.095,0.932],[-0.035,0.962],[0.025,0.982],[0.085,1.008],[0.145,1.026],[0.205,1.044],[0.265,1.056],[0.325,1.072]
];

// tick values and labels
const yTicks = [0.5, 0.7, 1.0];
const yLabels = ["0.5", "0.7", "1.0"];
const ticksBOR = [-0.2, 0, 0.2], labelsBOR = ["-0.2", "0.0", "0.2"];
const ticksRR0 = [-0.4, -0.2, 0], labelsRR0 = ["-0.4", "-0.2", "0.0"];
const ticksRR10 = [-0.2, 0, 0.2], labelsRR10 = ["-0.2", "0.0", "0.2"];
const ticksRR30 = [-0.25, 0, 0.25], labelsRR30 = ["-0.25", "0.00", "0.25"];
const ticksRR50 = [-0.1, 0, 0.1, 0.2, 0.3, 0.4], labelsRR50 = ["-0.1", "0.0", "0.1", "0.2", "0.3", "0.4"];
const ticksRTS = [-0.3, -0.2, -0.1, 0, 0.1, 0.2, 0.3], labelsRTS = ["-0.3", "-0.2", "-0.1", "0.0", "0.1", "0.2", "0.3"];
const ticksPFS = [-0.5, 0, 0.5, 1.0], labelsPFS = ["-0.5", "0.0", "0.5", "1.0"];

// ---------- LAYOUT ----------
const xDomains = [[-0.3116, 0.368], [-0.517, 0.152], [-0.384, 0.306], [-0.29, 0.451], [-0.1126, 0.409], [-0.327, 0.307], [-0.933, 1.10]];
const xMinor = [[-0.3, -0.1, 0.1, 0.3], [-0.5, -0.3, -0.1, 0.1], [-0.3, -0.1, 0.1, 0.3], [-0.125, 0.125, 0.375], [-0.05, 0.05, 0.15, 0.25, 0.35], [-0.25, -0.15, -0.05, 0.05, 0.15, 0.25], [-0.75, -0.25, 0.25, 0.75]];
const yDomain = [0.4708, 1.714];
const yGrid = [0.5, 0.7, 1.0, 1.4];
const yMinor = [Math.sqrt(0.5 * 0.7), Math.sqrt(0.7 * 1.0), Math.sqrt(1.0 * 1.4)];
const colLeft = [79.3, 315.8, 552.3];
const rowTop = [36, 284.5, 533];
const panelW = 229, panelH = 184.7, stripH = 30.3;
const mL = 50, mR = 14, mT = 4, mB = 45;
const FONT = '"Liberation Sans", Arial, sans-serif';

const facets = [
  {name: facetNames[0], data: deltaBOR, ticks: ticksBOR, labels: labelsBOR},
  {name: facetNames[1], data: deltaRR0, ticks: ticksRR0, labels: labelsRR0},
  {name: facetNames[2], data: deltaRR10, ticks: ticksRR10, labels: labelsRR10},
  {name: facetNames[3], data: deltaRR30, ticks: ticksRR30, labels: labelsRR30},
  {name: facetNames[4], data: deltaRR50, ticks: ticksRR50, labels: labelsRR50},
  {name: facetNames[5], data: deltaRTS, ticks: ticksRTS, labels: labelsRTS},
  {name: facetNames[6], data: logPFS_HR, ticks: ticksPFS, labels: labelsPFS}
];

const chart = document.getElementById("chart");
const gridColor = "#EBEBEB";

facets.forEach((f, i) => {
  const col = i % 3, row = Math.floor(i / 3);
  const showY = col === 0;
  const marks = [
    Plot.ruleX(xMinor[i], {stroke: gridColor, strokeWidth: 0.7}),
    Plot.ruleY(yMinor, {stroke: gridColor, strokeWidth: 0.7}),
    Plot.ruleX(f.ticks, {stroke: gridColor, strokeWidth: 1.4}),
    Plot.ruleY(yGrid, {stroke: gridColor, strokeWidth: 1.4}),
    Plot.dot(f.data, {x: d => d[0], y: d => d[1], r: 2.75, fill: "#000", fillOpacity: 0.46}),
    Plot.ruleX([0], {stroke: "#000", strokeWidth: 1.2, strokeDasharray: "5.5,5.5"}),
    Plot.ruleY([1], {stroke: "#000", strokeWidth: 1.2, strokeDasharray: "5.5,5.5"}),
    Plot.frame({stroke: "#333", strokeWidth: 1.2}),
    Plot.axisX({ticks: f.ticks, tickFormat: d => f.labels[f.ticks.indexOf(d)], tickSize: 4, tickPadding: 6, stroke: "#333", fill: "#4D4D4D", label: null, fontSize: 20})
  ];
  if (showY) marks.push(Plot.axisY({ticks: yTicks, tickFormat: d => yLabels[yTicks.indexOf(d)], tickSize: 4, tickPadding: 3, stroke: "#333", fill: "#4D4D4D", label: null, fontSize: 20, dy: 1.5}));
  const svg = Plot.plot({
    width: panelW + mL + mR,
    height: panelH + mT + mB,
    marginLeft: mL, marginRight: mR, marginTop: mT, marginBottom: mB,
    x: {domain: xDomains[i]},
    y: {type: "log", domain: yDomain, ...(showY ? {} : {axis: null})},
    style: {overflow: "visible", background: "transparent", fontFamily: FONT, fontSize: "20px", maxWidth: "none"},
    marks
  });
  svg.style.left = (colLeft[col] - mL) + "px";
  svg.style.top = (rowTop[row] - mT) + "px";
  chart.appendChild(svg);

  const strip = document.createElement("div");
  strip.className = "strip";
  strip.style.left = colLeft[col] + "px";
  strip.style.top = (rowTop[row] - stripH) + "px";
  strip.style.width = panelW + "px";
  strip.style.height = stripH + "px";
  strip.textContent = f.name;
  chart.appendChild(strip);
});

const xt = document.createElement("div");
xt.className = "title";
xt.textContent = "Tumor Metric Estimate";
xt.style.left = "436px"; xt.style.top = "746px"; xt.style.transform = "translateX(-50%)";
chart.appendChild(xt);

const yt = document.createElement("div");
yt.className = "title";
yt.textContent = "Overall Survival HR";
yt.style.left = "28.5px"; yt.style.top = "371px"; yt.style.transform = "translate(-50%,-50%) rotate(-90deg)";
chart.appendChild(yt);
</script></body></html>
